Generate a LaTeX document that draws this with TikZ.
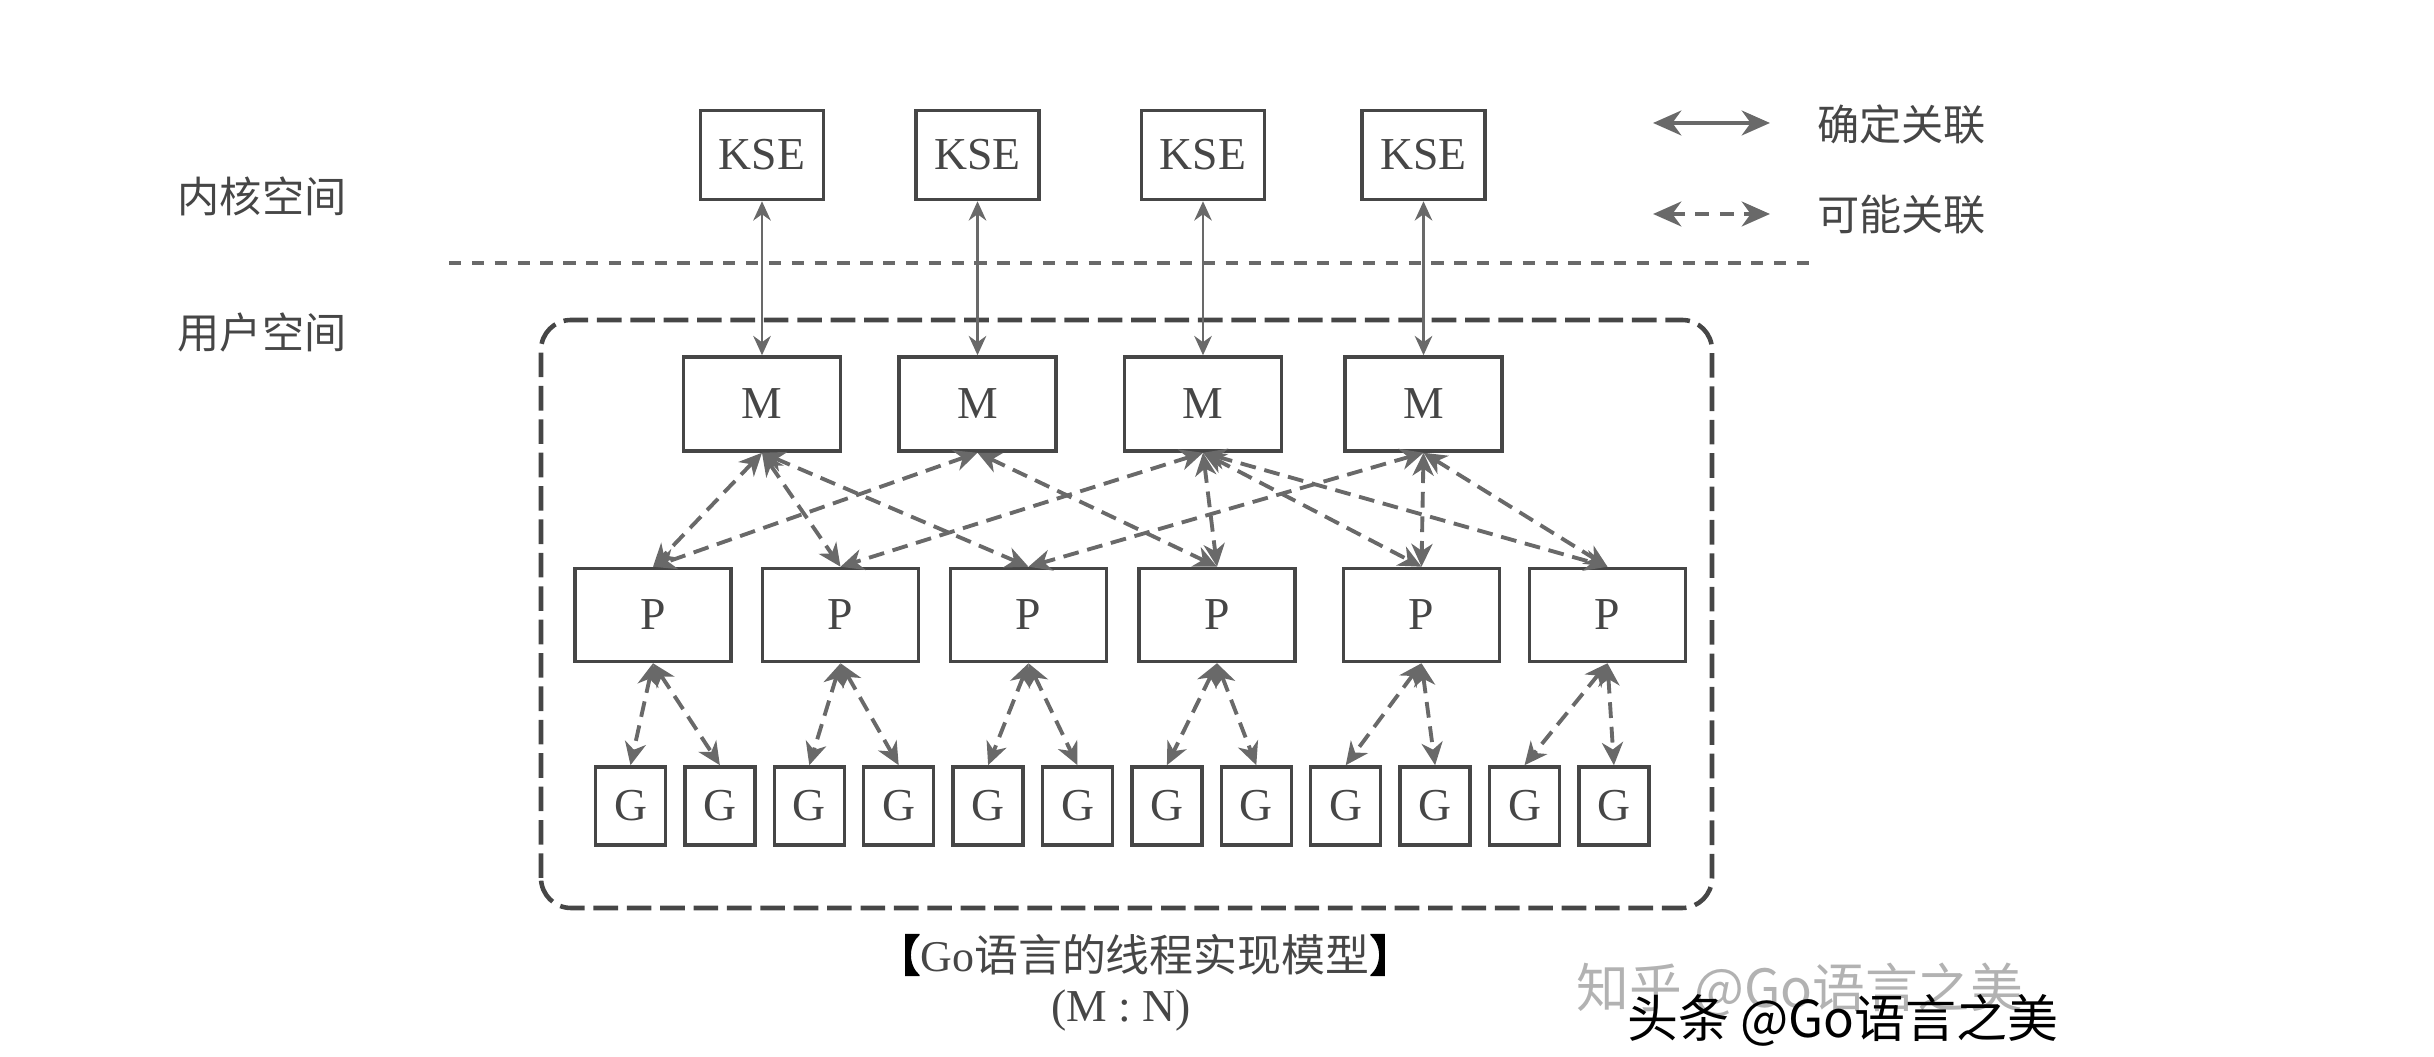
\documentclass[tikz,border=0pt]{standalone}
\usepackage{fontspec}
\setmainfont{Liberation Serif}
\newfontfamily\cjk{Noto Sans CJK SC}
\newfontfamily\cjkb[FakeBold=3]{Noto Sans CJK SC}
\usetikzlibrary{arrows.meta}
\definecolor{linegray}{RGB}{105,105,105}
\definecolor{boxgray}{RGB}{70,70,70}
\definecolor{textgray}{RGB}{70,70,70}

\begin{document}
\begin{tikzpicture}
\tikzstyle{unit} = [draw=boxgray, line width=1pt, fill=white, text=textgray, inner sep=0pt, font=\fontsize{13}{13}\selectfont]
\tikzstyle{ksebox} = [unit, minimum width=1.23cm, minimum height=0.89cm]
\tikzstyle{mbox} = [unit, minimum width=1.57cm, minimum height=0.94cm]
\tikzstyle{pbox} = [unit, minimum width=1.56cm, minimum height=0.93cm]
\tikzstyle{gbox} = [unit, minimum width=0.70cm, minimum height=0.78cm]
\tikzstyle{lbl} = [text=textgray, font=\cjk\fontsize{12}{12}\selectfont]
\tikzstyle{sure} = [linegray, line width=0.7pt, {Stealth[length=5.5pt, width=5pt, inset=1.8pt]}-{Stealth[length=5.5pt, width=5pt, inset=1.8pt]}]
\tikzstyle{maybe} = [linegray, line width=1.1pt, dash pattern=on 4.5pt off 2.5pt, {Stealth[length=6.5pt, width=6pt, inset=2pt]}-{Stealth[length=6.5pt, width=6pt, inset=2pt]}]
\tikzstyle{keytip} = [{Stealth[length=8pt, width=7pt, inset=2.5pt]}-{Stealth[length=8pt, width=7pt, inset=2.5pt]}]

\useasboundingbox (0,0) rectangle (24.34,10.57);

% kernel / user
\draw[linegray, line width=0.9pt, dash pattern=on 3.5pt off 3pt] (4.49,7.94) -- (18.15,7.94);
\node[lbl] (kernel) at (2.62,8.61) {内核空间};
\node[lbl] (user) at (2.62,7.25) {用户空间};

\draw[boxgray, line width=1.3pt, dash pattern=on 7pt off 2.5pt, rounded corners=0.3cm]
(5.41,1.49) rectangle (17.12,7.37);

% boxes
\foreach \x [count=\i] in {7.62, 9.775, 12.03, 14.235} {
\node[ksebox] (kse\i) at (\x, 9.02) {KSE};
\node[mbox] (m\i) at (\x, 6.53) {M};
}
\foreach \x [count=\i] in {6.53, 8.405, 10.285, 12.17, 14.215, 16.075}
\node[pbox] (p\i) at (\x, 4.42) {P};
\foreach \i in {1,...,12}
\node[gbox] (g\i) at ({6.305+0.894*(\i-1)}, 2.51) {G};

% links
\foreach \i in {1,...,4}
\draw[sure] (kse\i) -- (m\i);
\foreach \a/\b in {1/1, 1/2, 1/3, 2/1, 2/4, 3/2, 3/4, 3/5, 3/6, 4/3, 4/5, 4/6}
\draw[maybe] (m\a.south) -- (p\b.north);
\foreach \i [evaluate=\i as \ga using int(2*\i-1), evaluate=\i as \gb using int(2*\i)] in {1,...,6} {
\draw[maybe] (p\i.south) -- (g\ga.north);
\draw[maybe] (p\i.south) -- (g\gb.north);
}

% legend
\coordinate (sureL) at (16.53,9.34);
\coordinate (sureR) at (17.70,9.34);
\coordinate (maybeL) at (16.53,8.43);
\coordinate (maybeR) at (17.70,8.43);
\draw[sure, keytip, line width=1.4pt] (sureL) -- (sureR);
\draw[maybe, keytip, line width=1.4pt, dash pattern=on 4pt off 3pt] (maybeL) -- (maybeR);
\node[lbl, anchor=west] (surelbl) at (18.05,9.32) {确定关联};
\node[lbl, anchor=west] (maybelbl) at (18.05,8.42) {可能关联};

% caption
\node[text=textgray, font=\fontsize{12.5}{12.5}\selectfont] (title) at (11.45,1.02)
{{\cjkb\color{black}【}Go{\cjk 语言的线程实现模型}{\cjkb\color{black}】}};
\node[text=textgray, font=\fontsize{13}{13}\selectfont] (ratio) at (11.21,0.46) {(M : N)};

% watermarks
\node[text=black!30, font=\cjk\fontsize{15}{15}\selectfont] (zhihu) at (18.0,0.67) {知乎 @Go语言之美};
\node[text=black, font=\cjk\fontsize{14.5}{14.5}\selectfont] (toutiao) at (18.43,0.37) {头条 @Go语言之美};

\end{tikzpicture}
\end{document}
